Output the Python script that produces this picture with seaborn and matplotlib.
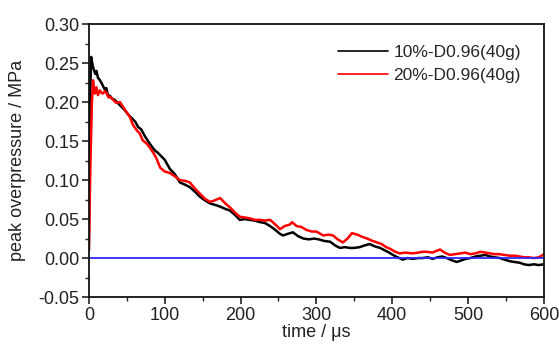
import numpy as np
import pandas as pd
import matplotlib
matplotlib.use("Agg")
import matplotlib.pyplot as plt
import seaborn as sns
from matplotlib.ticker import MultipleLocator

# --- values ---
t_10 = [0, 1.5, 3, 5, 7, 8.5, 10, 12, 14, 17, 19, 21, 23, 25, 28, 30, 34, 38, 43, 47,
        52, 56, 61, 65, 69, 74, 78, 83, 87, 91, 96, 100, 107, 113, 120, 127, 133, 140,
        146, 153, 160, 167, 173, 180, 186, 193, 199, 206, 212, 219, 226, 232, 239, 246,
        252, 256, 262, 269, 276, 283, 290, 297, 303, 310, 318, 325, 331, 338, 344, 350,
        357, 363, 370, 377, 384, 390, 396, 401, 407, 414, 420, 427, 434, 440, 447, 453,
        460, 466, 472, 479, 485, 491, 497, 503, 510, 516, 523, 529, 535, 542, 548, 555,
        561, 568, 574, 580, 587, 593, 600]
p_10 = [0.010, 0.200, 0.258, 0.247, 0.240, 0.236, 0.240, 0.231, 0.229, 0.224, 0.220,
        0.216, 0.218, 0.209, 0.208, 0.205, 0.203, 0.199, 0.194, 0.190, 0.184, 0.180,
        0.175, 0.168, 0.165, 0.156, 0.150, 0.143, 0.138, 0.135, 0.130, 0.126, 0.114,
        0.108, 0.097, 0.094, 0.091, 0.085, 0.079, 0.074, 0.070, 0.068, 0.066, 0.063,
        0.061, 0.055, 0.049, 0.050, 0.049, 0.048, 0.046, 0.045, 0.041, 0.036, 0.031,
        0.029, 0.031, 0.033, 0.028, 0.025, 0.024, 0.025, 0.024, 0.022, 0.021, 0.016,
        0.013, 0.014, 0.013, 0.013, 0.014, 0.016, 0.018, 0.015, 0.013, 0.010, 0.007,
        0.004, 0.001, -0.002, 0.000, -0.001, 0.000, 0.000, 0.001, -0.001, 0.001, 0.002,
        0.000, -0.003, -0.005, -0.003, -0.001, 0.000, 0.002, 0.003, 0.004, 0.002, 0.001,
        0.000, -0.002, -0.004, -0.005, -0.006, -0.008, -0.009, -0.008, -0.009, -0.008]

t_20 = [0, 2, 4, 5.5, 7, 8, 10, 12, 14.5, 16.5, 18.5, 21, 23, 26, 28, 32, 36, 41, 45,
        49, 54, 58, 63, 67, 71, 76, 80, 85, 89, 94, 100, 107, 113, 120, 127, 133, 140,
        146, 153, 160, 166, 173, 180, 186, 193, 199, 206, 212, 219, 226, 232, 239, 246,
        252, 258, 265, 268, 274, 280, 287, 294, 300, 309, 316, 322, 328, 335, 341, 347,
        354, 361, 367, 374, 380, 386, 392, 397, 404, 410, 417, 427, 434, 440, 446, 453,
        458, 463, 469, 476, 483, 490, 496, 503, 510, 516, 523, 529, 535, 541, 548, 555,
        561, 568, 574, 580, 587, 593, 597, 600]
p_20 = [0.010, 0.120, 0.200, 0.228, 0.215, 0.211, 0.219, 0.209, 0.215, 0.212, 0.211,
        0.214, 0.212, 0.206, 0.207, 0.203, 0.199, 0.200, 0.194, 0.188, 0.181, 0.171,
        0.164, 0.160, 0.151, 0.147, 0.142, 0.135, 0.128, 0.116, 0.111, 0.109, 0.105,
        0.100, 0.099, 0.097, 0.089, 0.083, 0.076, 0.072, 0.074, 0.077, 0.070, 0.065,
        0.058, 0.053, 0.052, 0.051, 0.049, 0.049, 0.048, 0.049, 0.043, 0.037, 0.041,
        0.043, 0.046, 0.041, 0.040, 0.036, 0.034, 0.034, 0.029, 0.030, 0.029, 0.024,
        0.020, 0.025, 0.032, 0.030, 0.027, 0.025, 0.022, 0.020, 0.018, 0.014, 0.012,
        0.008, 0.006, 0.007, 0.006, 0.007, 0.008, 0.008, 0.007, 0.009, 0.011, 0.007,
        0.004, 0.005, 0.006, 0.007, 0.005, 0.006, 0.008, 0.007, 0.006, 0.005, 0.005,
        0.004, 0.003, 0.003, 0.002, 0.001, 0.001, 0.000, 0.001, 0.003, 0.005]

t_zero = [0, 600]
p_zero = [0.0, 0.0]

labels = ["10%-D0.96(40g)", "20%-D0.96(40g)"]

sns.set_theme(style="ticks")
plt.rcParams['font.family'] = ['Liberation Sans', 'DejaVu Sans']

fig, ax = plt.subplots(figsize=(5.59, 3.45), dpi=100)
fig.subplots_adjust(left=0.159, right=0.973, top=0.930, bottom=0.139)

sns.lineplot(x=t_10, y=p_10, ax=ax, color="black", lw=1.8, sort=False,
             estimator=None, label=labels[0])
sns.lineplot(x=t_20, y=p_20, ax=ax, color="#ff0000", lw=1.8, sort=False,
             estimator=None, label=labels[1])
sns.lineplot(x=t_zero, y=p_zero, ax=ax, color="#2b2bff", lw=1.3, sort=False,
             estimator=None)

ax.set_xlim(0, 600)
ax.set_ylim(-0.05, 0.30)
ax.xaxis.set_major_locator(MultipleLocator(100))
ax.xaxis.set_minor_locator(MultipleLocator(50))
ax.yaxis.set_major_locator(MultipleLocator(0.05))
ax.yaxis.set_minor_locator(MultipleLocator(0.025))
ax.yaxis.set_major_formatter(plt.FuncFormatter(lambda v, p: f"{v:.2f}"))

ax.tick_params(which="major", direction="out", length=5, width=1.2,
               labelsize=13, colors="#222222", pad=2)
ax.tick_params(which="minor", direction="out", length=3, width=1.0, colors="#222222")
ax.tick_params(top=False, right=False, which="both")
for s in ax.spines.values():
    s.set_linewidth(1.3)
    s.set_color("#111111")

ax.set_xlabel("time / μs", fontsize=13, color="#222222", labelpad=0)
ax.set_ylabel("peak overpressure / MPa", fontsize=13, color="#222222", labelpad=9)

leg = ax.legend(loc="upper right", frameon=False, fontsize=12.5, handlelength=2.9,
                handletextpad=0.3, borderaxespad=0.8, labelspacing=0.45,
                bbox_to_anchor=(0.995, 1.0))
for h in leg.get_lines():
    h.set_linewidth(1.2)

fig.savefig("out.png", dpi=100)
